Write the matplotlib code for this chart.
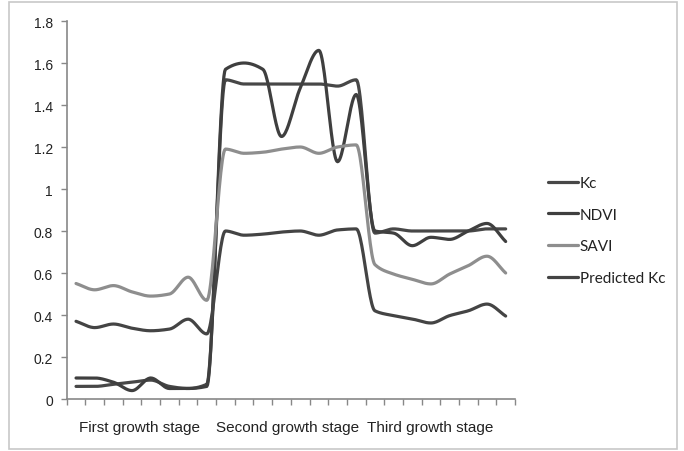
import numpy as np
import matplotlib
matplotlib.use("Agg")
import matplotlib.pyplot as plt
from matplotlib.patches import Rectangle

# ---- data (24 observations, 8 per growth stage) ----
stage_labels = ["First growth stage", "Second growth stage", "Third growth stage"]
series_names = ["Kc", "NDVI", "SAVI", "Predicted Kc"]

kc = [0.06, 0.06, 0.07, 0.08, 0.09, 0.06, 0.05, 0.07,
      1.52, 1.50, 1.50, 1.50, 1.50, 1.50, 1.49, 1.52,
      0.79, 0.81, 0.80, 0.80, 0.80, 0.80, 0.81, 0.81]
ndvi = [0.10, 0.10, 0.08, 0.04, 0.10, 0.05, 0.05, 0.06,
        1.57, 1.60, 1.57, 1.25, 1.48, 1.66, 1.13, 1.45,
        0.80, 0.79, 0.73, 0.77, 0.76, 0.80, 0.836, 0.75]
savi = [0.55, 0.52, 0.54, 0.51, 0.49, 0.50, 0.58, 0.47,
        1.19, 1.17, 1.175, 1.19, 1.20, 1.17, 1.20, 1.21,
        0.64, 0.595, 0.57, 0.548, 0.595, 0.635, 0.68, 0.60]
pred_kc = [0.37, 0.34, 0.357, 0.337, 0.325, 0.333, 0.38, 0.31,
           0.80, 0.78, 0.785, 0.795, 0.80, 0.78, 0.805, 0.81,
           0.42, 0.397, 0.381, 0.362, 0.397, 0.42, 0.452, 0.395]
y_ticks = [0, 0.2, 0.4, 0.6, 0.8, 1, 1.2, 1.4, 1.6, 1.8]
stage_label_pos = [3.42, 11.31, 18.95]


def smooth(y, n=24):
    """Smoothed line through the points (monotone cubic Hermite)."""
    y = np.asarray(y, float)
    x = np.arange(len(y), dtype=float)
    d = np.diff(y)
    m = np.zeros_like(y)
    m[0], m[-1] = d[0], d[-1]
    for i in range(1, len(y) - 1):
        if d[i - 1] * d[i] <= 0:
            m[i] = 0.0
        else:
            m[i] = 2.0 / (1.0 / d[i - 1] + 1.0 / d[i])
    xs, ys = [x[0]], [y[0]]
    t = np.linspace(0, 1, n + 1)[1:]
    for i in range(len(y) - 1):
        h00 = 2 * t**3 - 3 * t**2 + 1
        h10 = t**3 - 2 * t**2 + t
        h01 = -2 * t**3 + 3 * t**2
        h11 = t**3 - t**2
        ys.extend(h00 * y[i] + h10 * m[i] + h01 * y[i + 1] + h11 * m[i + 1])
        xs.extend(x[i] + t)
    return np.array(xs), np.array(ys)


W, H = 684, 452
fig = plt.figure(figsize=(W / 100, H / 100), dpi=100)
plt.rcParams['font.family'] = ['Liberation Sans', 'DejaVu Sans']

x0, x1 = 66.7, 515.0
ytop, ybot = 22.0, 400.0
ax = fig.add_axes([x0 / W, 1 - ybot / H, (x1 - x0) / W, (ybot - ytop) / H])

colors = ["#474747", "#3f3f3f", "#8e8e8e", "#444444"]
for name, data, c in zip(series_names, [kc, ndvi, savi, pred_kc], colors):
    xs, ys = smooth(data)
    ax.plot(xs, ys, color=c, lw=2.3, label=name, solid_capstyle='round')

ax.set_xlim(-0.5, len(kc) - 0.5)
ax.set_ylim(0, 1.8)
ax.set_yticks(y_ticks)
ax.set_yticklabels([f"{v:g}" for v in y_ticks], fontsize=10, color="#222222")
ax.set_xticks(np.arange(-0.5, len(kc), 1.0))
ax.set_xticklabels([])
ax.tick_params(axis='x', direction='out', length=4, width=1, color="#888888")
ax.tick_params(axis='y', direction='out', length=4, width=1, color="#888888", pad=6)
for s in ["top", "right"]:
    ax.spines[s].set_visible(False)
for s in ["left", "bottom"]:
    ax.spines[s].set_color("#888888")
    ax.spines[s].set_linewidth(1.2)

# stage labels under the axis
for xc, lab in zip(stage_label_pos, stage_labels):
    ax.text(xc, -0.135, lab, ha='center', va='center', fontsize=11,
            color="#222222", transform=ax.transData)

# legend
leg = fig.legend(loc='center left', bbox_to_anchor=(540 / W, 1 - 231.5 / H),
                 frameon=False, handlelength=2.0,
                 handletextpad=0.1, labelspacing=1.15, borderpad=0,
                 prop={'family': ['Lato', 'DejaVu Sans'], 'size': 11})
for t in leg.get_texts():
    t.set_color("#222222")

# chart area border
fig.add_artist(Rectangle((9 / W, 1 - 450 / H), (677 - 9) / W, (450 - 3) / H,
                         transform=fig.transFigure, fill=False,
                         edgecolor="#c8c8c8", lw=1.2))

fig.savefig("out.png", dpi=100)
